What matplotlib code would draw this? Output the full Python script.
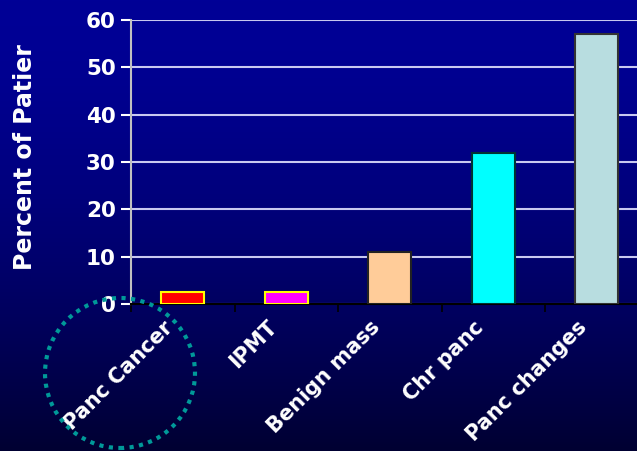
import numpy as np
import matplotlib
matplotlib.use("Agg")
import matplotlib.pyplot as plt
from matplotlib.patches import Ellipse

categories = ["Panc Cancer", "IPMT", "Benign mass", "Chr panc", "Panc changes"]
values = [2.5, 2.5, 11, 32, 57]
colors = ["#ff0000", "#ff00ff", "#ffcc99", "#00ffff", "#b8dde0"]
edges = ["#ffff00", "#ffff00", "#222222", "#003333", "#333333"]
yticks = [0, 10, 20, 30, 40, 50, 60]

W, H = 637, 451
fig = plt.figure(figsize=(W / 100, H / 100), dpi=100)

# gradient background
bg = fig.add_axes([0, 0, 1, 1], zorder=0)
grad = np.linspace(0, 1, 256).reshape(-1, 1) ** 1.6
top = np.array([0, 0, 150]) / 255
bot = np.array([0, 0, 50]) / 255
img = top[None, None, :] * (1 - grad[:, :, None]) + bot[None, None, :] * grad[:, :, None]
bg.imshow(img, aspect="auto", extent=[0, 1, 0, 1])
bg.axis("off")

left, right, topy, boty = 131, 131 + 5 * 103.5, 20, 304
ax = fig.add_axes([left / W, 1 - boty / H, (right - left) / W, (boty - topy) / H], zorder=1)
ax.set_facecolor("none")
x = np.arange(len(categories))
ax.bar(x, values, width=0.415, color=colors, edgecolor=edges, linewidth=1.5, zorder=3)
ax.set_xlim(-0.5, len(categories) - 0.5)
ax.set_ylim(0, 60)
ax.set_yticks(yticks)
ax.set_yticklabels([str(v) for v in yticks], color="white", fontsize=15.5, fontweight="bold")
ax.yaxis.grid(True, color="#c8c8f0", linewidth=1.5, zorder=1)
ax.set_axisbelow(True)
for s in ["top", "right"]:
    ax.spines[s].set_visible(False)
ax.spines["left"].set_color("#c0c0c0")
ax.spines["left"].set_linewidth(1.5)
ax.spines["bottom"].set_color("black")
ax.spines["bottom"].set_linewidth(1.5)
ax.tick_params(axis="y", colors="white", length=7, width=1.5, pad=4)
ax.tick_params(axis="x", colors="black", length=6, width=1.2)
ax.set_xticks(np.arange(len(categories) + 1) - 0.5)
ax.set_xticklabels([])
for i, c in enumerate(categories):
    ax.text(i - 0.19, -2.8, c, rotation=45, ha="right", va="top", rotation_mode="anchor",
            color="white", fontsize=15, fontweight="bold", transform=ax.transData, clip_on=False)

fig.text(25 / W, 1 - 157 / H, "Percent of Patier", rotation=90, color="white", fontsize=17,
         fontweight="bold", ha="center", va="center")

circ = Ellipse((120 / W, 1 - 373 / H), 150 / W, 150 / H, transform=fig.transFigure, fill=False,
               edgecolor="#009999", linewidth=3, linestyle=(0, (1, 1.3)), zorder=5)
fig.patches.append(circ)

fig.savefig("out.png", dpi=100)
